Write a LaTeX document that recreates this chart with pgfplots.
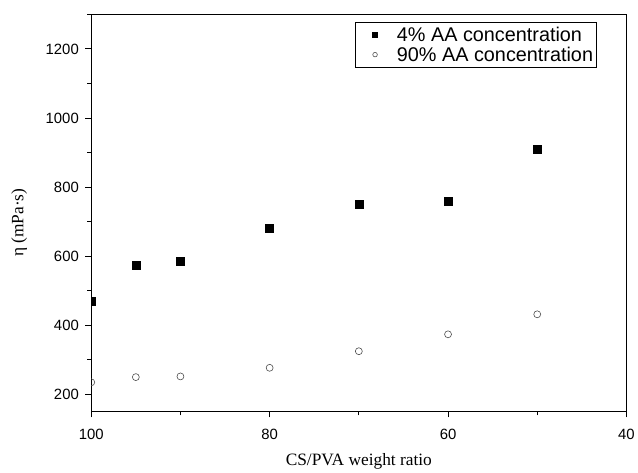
\documentclass[border=0pt]{standalone}
\usepackage{fontspec}
\setmainfont{Liberation Sans}
\newfontfamily\timesfont{Liberation Serif}
\usepackage{pgfplots}
\pgfplotsset{compat=1.18}

\begin{document}
\begin{tikzpicture}
\begin{axis}[
    scale only axis,
    width=538bp, height=399bp,
    x dir=reverse,
    xmin=40, xmax=100,
    ymin=150, ymax=1300,
    xtick={100,80,60,40},
    minor xtick={90,70,50},
    ytick={200,400,...,1200},
    minor ytick={300,500,...,1300},
    tick align=outside,
    major tick length=6bp,
    minor tick length=4bp,
    xtick pos=bottom, ytick pos=left,
    tick style={black, line width=0.8pt},
    axis line style={line width=0.9pt},
    /pgf/number format/assume math mode=true,
    /pgf/number format/1000 sep={},
    ticklabel style={font=\fontsize{15}{17}\selectfont},
    xticklabel style={yshift=-8bp},
    yticklabel style={xshift=-3bp},
    xlabel={\timesfont CS/PVA weight ratio},
    ylabel={\timesfont η (mPa·s)},
    label style={font=\fontsize{17.5}{19}\selectfont},
    xlabel style={yshift=-7bp},
    ylabel style={yshift=12bp, xshift=-10bp},
    clip marker paths=true,
    legend style={at={(0.944,0.982)}, anchor=north east, draw=black,
        line width=0.8pt,
        font=\fontsize{20}{21}\selectfont, inner xsep=1bp, inner ysep=3bp,
        row sep=0bp, column sep=5bp,
        nodes={inner sep=2bp},
        cells={anchor=west}},
    legend cell align=left,
    legend image code/.code={
        \path[draw=none, fill=none] (0bp,-3bp) rectangle (34bp,3bp);
        \draw[#1] plot coordinates {(19bp,0bp)};
    },
]
\addplot[only marks, mark=square*, mark size=4bp, black,
    legend image post style={mark size=2.6bp}] coordinates {
(100,470) (95,574) (90,584) (80,680) (70,750) (60,760) (50,910)
};
\addlegendentry{4\% AA concentration}
\addplot[only marks, mark=o, mark size=3.5bp, black!70, line width=0.6pt,
    legend image post style={mark size=2.3bp}] coordinates {
(100,234) (95,249) (90,251) (80,276) (70,324) (60,373) (50,431)
};
\addlegendentry{90\% AA concentration}
\end{axis}
\path (current bounding box.north west) ++(-8bp,14bp);
\end{tikzpicture}
\end{document}
